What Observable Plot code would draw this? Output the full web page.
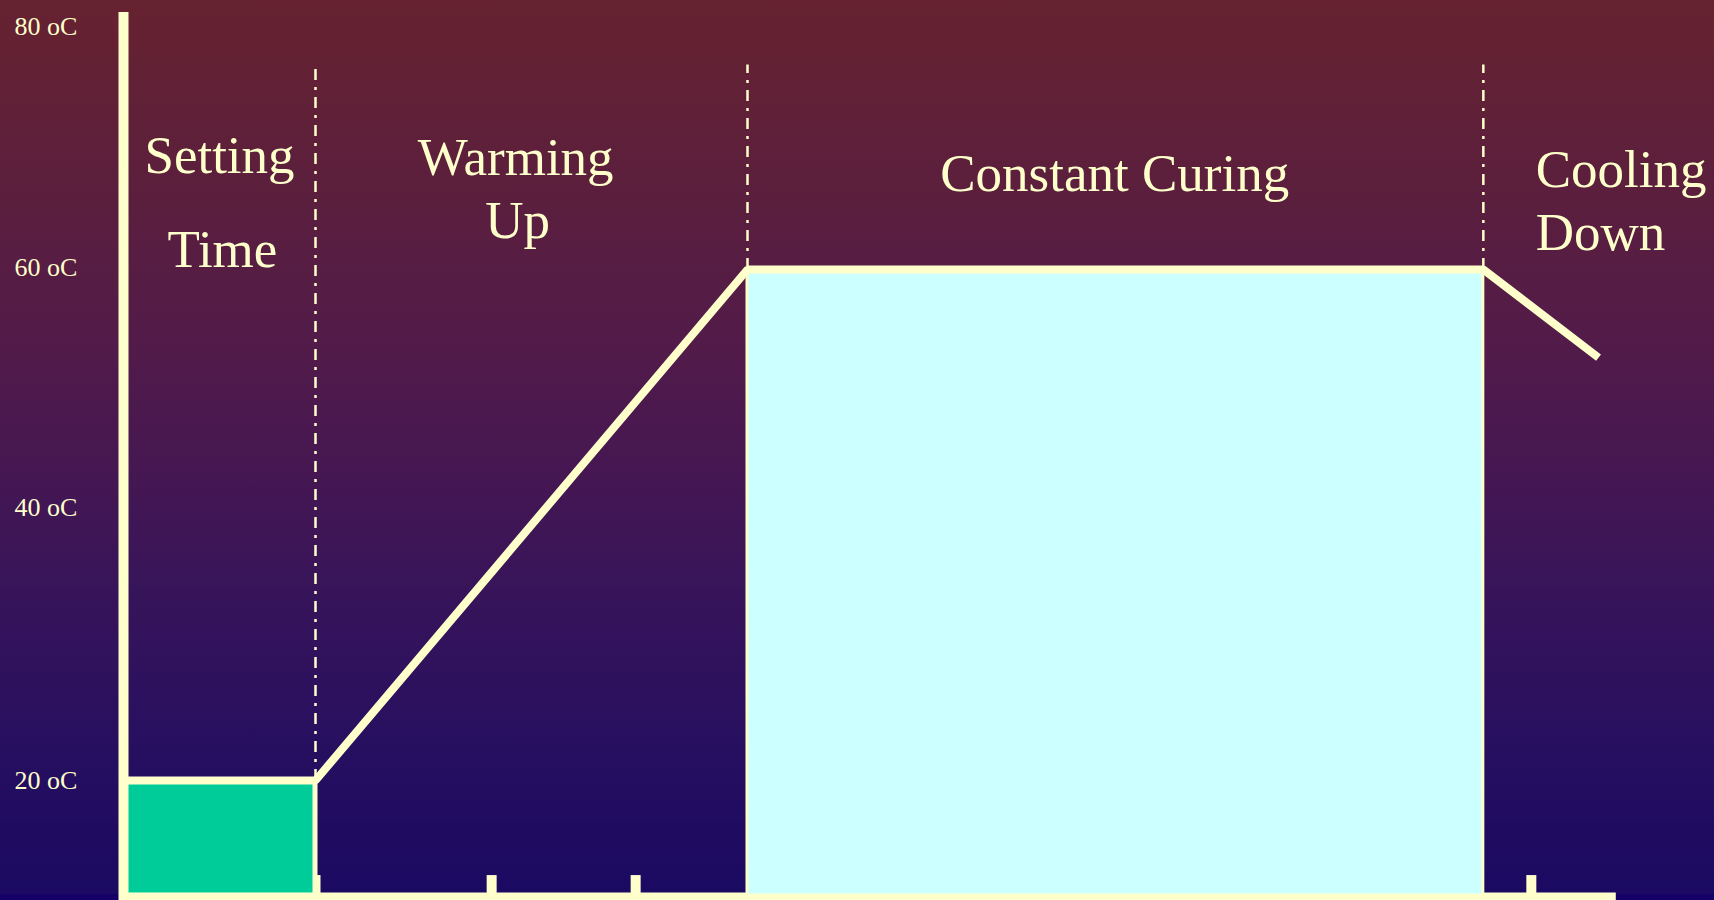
<!DOCTYPE html>
<html>
<head>
<meta charset="utf-8">
<script src="https://cdn.jsdelivr.net/npm/d3@7"></script>
<script src="https://cdn.jsdelivr.net/npm/@observablehq/plot@0.6"></script>
<style>
  html, body { margin: 0; padding: 0; overflow: hidden; background: #1b0a62; }
  #chart svg { display: block; }
</style>
</head>
<body>
<div id="chart"></div>
<script>
// Curing temperature profile (time in hours, temperature in °C)
const profileTime = [0, 4, 13, 28.33, 30.73];
const profileTemp = [20, 20, 60, 60, 53.1];

// Phase boundaries (dash-dot verticals)
const boundaryTime = [4, 13, 28.33];
const boundaryTemp = [20, 60, 60];
const boundaryTop = 76;

// Shaded blocks: setting (green) and constant curing (cyan)
const blockStart = [0, 13];
const blockEnd = [4, 28.33];
const blockTemp = [20, 60];
const blockBase = 11;

// Time-axis tick marks
const tickTime = [4, 7.67, 10.67, 29.33];
const axisEnd = 31.1;
const axisBase = 10.92;
const tickTop = 12.56;
const axisTop = 80.12;

// Temperature tick labels
const tempLabels = ["80 oC", "60 oC", "40 oC", "20 oC"];
const tempLabelPos = [78.32, 59.53, 40.74, 19.37];

// Phase labels
const phaseText = ["Setting", "Time", "Warming", "Up", "Constant Curing", "Cooling", "Down"];
const phaseX = [2.0, 2.06, 8.17, 8.21, 20.65, 29.42, 29.42];
const phaseY = [67.59, 60.16, 67.36, 62.43, 66.18, 66.42, 61.49];
const phaseAnchor = ["middle", "middle", "middle", "middle", "middle", "start", "start"];

const ink = "#FFFFCC";
const serif = "'Liberation Serif', 'Times New Roman', serif";

const profile = profileTime.map((t, i) => ({t, v: profileTemp[i]}));
const boundaries = boundaryTime.map((t, i) => ({t, v: boundaryTemp[i]}));
const blocks = blockStart.map((s, i) => ({s, e: blockEnd[i], v: blockTemp[i]}));
const phases = phaseText.map((text, i) => ({text, t: phaseX[i], v: phaseY[i], a: phaseAnchor[i]}));
const tLabels = tempLabels.map((text, i) => ({text, v: tempLabelPos[i]}));

const chart = Plot.plot({
  width: 1714,
  height: 900,
  marginLeft: 0, marginRight: 0, marginTop: 0, marginBottom: 0,
  x: {domain: [0, 33.146], range: [123, 1714], axis: null},
  y: {domain: [10.607, 81.057], range: [900, 0], axis: null},
  style: {
    background: "linear-gradient(to bottom, #662230 0%, #5c1f3c 20%, #521b49 38%, #461752 52%, #37145a 66%, #2a105f 80%, #1f0c61 92%, #1b0a62 99.3%, #160068 99.4%)",
    overflow: "visible"
  },
  marks: [
    // time axis line and ticks
    Plot.ruleY([axisBase], {x1: 0, x2: axisEnd, stroke: ink, strokeWidth: 8}),
    Plot.ruleX(tickTime, {y1: axisBase, y2: tickTop, stroke: ink, strokeWidth: 10}),
    // shaded blocks
    Plot.rect([blocks[0]], {x1: "s", x2: "e", y1: blockBase, y2: "v", fill: "#00CC99", stroke: ink, strokeWidth: 5}),
    Plot.rect([blocks[1]], {x1: "s", x2: "e", y1: blockBase, y2: "v", fill: "#CCFFFF", stroke: ink, strokeWidth: 3}),
    // temperature axis line
    Plot.ruleX([0], {y1: 10.6, y2: axisTop, stroke: ink, strokeWidth: 10}),
    // phase boundaries
    Plot.ruleX(boundaries, {x: "t", y1: "v", y2: boundaryTop, stroke: ink, strokeWidth: 2.5, strokeDasharray: "11,7,3,7"}),
    // temperature profile
    Plot.line(profile, {x: "t", y: "v", stroke: ink, strokeWidth: 8, strokeLinejoin: "miter", strokeLinecap: "butt"}),
    // temperature labels
    Plot.text(tLabels, {y: "v", text: "text", frameAnchor: "left", dx: 14, textAnchor: "start", lineAnchor: "bottom",
      fill: ink, fontSize: 26, fontFamily: serif}),
    // phase labels
    Plot.text(phases.filter(d => d.a === "middle"), {x: "t", y: "v", text: "text", textAnchor: "middle", lineAnchor: "bottom",
      fill: ink, fontSize: 53, fontFamily: serif}),
    Plot.text(phases.filter(d => d.a === "start"), {x: "t", y: "v", text: "text", textAnchor: "start", lineAnchor: "bottom",
      fill: ink, fontSize: 53, fontFamily: serif})
  ]
});
document.getElementById("chart").appendChild(chart);
</script>
</body>
</html>
